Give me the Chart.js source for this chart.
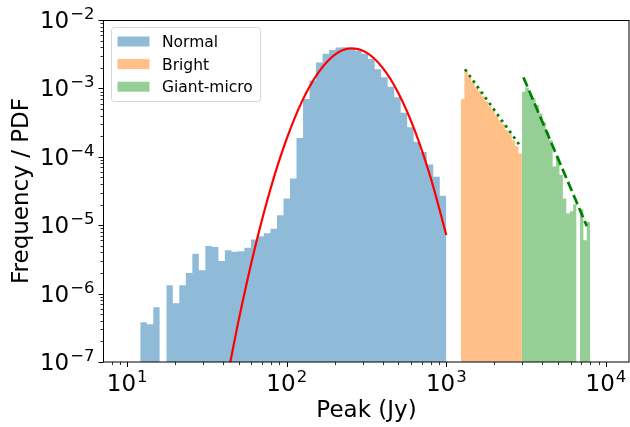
<!DOCTYPE html>
<html>
<head>
<meta charset="utf-8">
<script src="https://cdn.jsdelivr.net/npm/chart.js@4.4.0/dist/chart.umd.min.js"></script>
<style>
  html, body { margin: 0; padding: 0; background: #ffffff; }
  #wrap { width: 630px; height: 427px; }
</style>
</head>
<body>
<div id="wrap"><canvas id="peak-chart"></canvas></div>
<script>
// Histogram bin edges (Jy) and heights (PDF)
const normalEdges = [12.08, 13.27, 14.58, 16.01, 17.59, 19.32, 21.22, 23.32, 25.61, 28.13,
    30.90, 33.95, 37.29, 40.96, 45.00, 49.43, 54.30, 59.65, 65.52, 71.98,
    79.07, 86.86, 95.41, 104.8, 115.1, 126.5, 138.9, 152.6, 167.7, 184.2,
    202.3, 222.2, 244.1, 268.2, 294.6, 323.6, 355.5, 390.5, 428.9, 471.2,
    517.6, 568.6, 624.6, 686.1, 753.9, 827.9, 909.5, 1000];
const normalValues = [3.8e-7, 3.55e-7, 6.3e-7, 0, 1.32e-6, 7.2e-7, 1.32e-6, 2.0e-6, 3.84e-6, 2.2e-6,
    4.95e-6, 4.8e-6, 3.0e-6, 4.3e-6, 4.1e-6, 4.15e-6, 4.7e-6, 6.2e-6, 6.9e-6, 7.6e-6,
    8.9e-6, 1.4e-5, 2.46e-5, 4.8e-5, 1.89e-4, 6.97e-4, 1.3e-3, 2.4e-3, 3.2e-3, 3.64e-3,
    3.95e-3, 4.0e-3, 3.85e-3, 3.55e-3, 3.2e-3, 2.7e-3, 1.9e-3, 1.45e-3, 1.06e-3, 7.4e-4,
    4.4e-4, 2.7e-4, 1.65e-4, 1.18e-4, 7.7e-5, 5.1e-5, 2.7e-5];

const brightEdges = [1237, 1299, 1363, 1432, 1503, 1578, 1657, 1740, 1827, 1918,
    2014, 2114, 2220, 2331, 2447, 2569, 2698, 2832, 2974];
const brightValues = [6.97e-4, 1.85e-3, 1.46e-3, 1.24e-3, 1.04e-3, 9.1e-4, 7.7e-4, 6.5e-4, 5.5e-4,
    4.8e-4, 4.06e-4, 3.43e-4, 3.0e-4, 2.45e-4, 2.14e-4, 1.75e-4, 1.43e-4, 1.12e-4];

const giantEdges = [2974, 3124, 3282, 3447, 3622, 3805, 3998, 4201, 4413, 4635,
    4869, 5115, 5373, 5645, 5931, 6230, 6545, 6876, 7223, 7588, 7971];
const giantValues = [8.9e-4, 1.03e-3, 8.45e-4, 7.1e-4, 5.7e-4, 4.3e-4, 3.24e-4, 2.3e-4, 1.75e-4, 7.2e-5,
    1.0e-4, 5.4e-5, 2.46e-5, 1.48e-5, 1.6e-5, 2.02e-5, 0, 1.71e-5, 6.0e-6, 1.11e-5];

// Log-normal fit to the normal pulses (red curve)
const fitX = [43.65, 50.1, 63.1, 79.4, 100, 125.9, 158.5, 199.5, 251.2, 316.2, 398.1, 501.2, 631, 794.3, 1000];
const fitY = [8.4e-8, 4.2e-7, 4.6e-6, 3.5e-5, 1.84e-4, 6.8e-4, 1.73e-3, 3.1e-3, 3.85e-3, 3.34e-3,
    2.01e-3, 8.5e-4, 2.5e-4, 5.1e-5, 7.2e-6];

// Power-law fits (dotted: bright, dashed: giant-micro)
const brightFitX = [1309, 2851];
const brightFitY = [1.9e-3, 1.53e-4];
const giantFitX = [3041, 7590];
const giantFitY = [1.45e-3, 9.7e-6];

// Axis ranges and tick labels
const xRange = [7.16, 13950];
const yRange = [1e-7, 1e-2];
const xMajorTicks = [10, 100, 1000, 10000];
const xTickExponents = ['1', '2', '3', '4'];
const yMajorTicks = [1e-7, 1e-6, 1e-5, 1e-4, 1e-3, 1e-2];
const yTickExponents = ['\u22127', '\u22126', '\u22125', '\u22124', '\u22123', '\u22122'];

const FONT = "'DejaVu Sans', 'Liberation Sans', sans-serif";

// turn edges + heights into a step outline, breaking at empty bins
function histPoints(edges, values) {
    const pts = [];
    values.forEach((v, i) => {
        if (v > 0) {
            pts.push({ x: edges[i], y: v });
            if (i === values.length - 1 || !(values[i + 1] > 0)) {
                pts.push({ x: edges[i + 1], y: v });
            }
        } else {
            pts.push({ x: edges[i], y: null });
        }
    });
    return pts;
}

function zipXY(xs, ys) {
    return xs.map((x, i) => ({ x: x, y: ys[i] }));
}

function minorTicks(lo, hi, fromExp, toExp) {
    const out = [];
    for (let e = fromExp; e <= toExp; e++) {
        for (let m = 2; m <= 9; m++) {
            const v = m * Math.pow(10, e);
            if (v > lo && v < hi) out.push(v);
        }
    }
    return out;
}

// draws "10" with a raised exponent, mathtext-like
function drawPower(ctx, exp, x, baseline, align) {
    ctx.font = '23px ' + FONT;
    const w1 = ctx.measureText('10').width;
    ctx.font = '16.5px ' + FONT;
    const w2 = ctx.measureText(exp).width;
    const total = w1 + 1 + w2;
    let start = x - total / 2;
    if (align === 'right') start = x - total;
    ctx.textAlign = 'left';
    ctx.textBaseline = 'alphabetic';
    ctx.font = '23px ' + FONT;
    ctx.fillText('10', start, baseline);
    ctx.font = '16.5px ' + FONT;
    ctx.fillText(exp, start + w1 + 1, baseline - 9);
}

const axesDecor = {
    id: 'axesDecor',
    afterDraw(chart) {
        const ctx = chart.ctx;
        const area = chart.chartArea;
        const xs = chart.scales.x;
        const ys = chart.scales.y;
        ctx.save();
        ctx.strokeStyle = '#000000';
        ctx.fillStyle = '#000000';

        // spines
        ctx.lineWidth = 1;
        ctx.strokeRect(Math.round(area.left) - 0.5, Math.round(area.top) + 0.5,
            Math.round(area.right - area.left) + 0.5, Math.round(area.bottom - area.top) - 0.5);

        const bottom = Math.round(area.bottom);
        const left = Math.round(area.left) - 0.5;

        // x ticks
        ctx.beginPath();
        xMajorTicks.forEach(v => {
            const px = Math.round(xs.getPixelForValue(v)) + 0.5;
            ctx.moveTo(px, bottom); ctx.lineTo(px, bottom + 5);
        });
        ctx.stroke();
        ctx.lineWidth = 0.8;
        ctx.beginPath();
        minorTicks(xRange[0], xRange[1], 0, 4).forEach(v => {
            const px = Math.round(xs.getPixelForValue(v)) + 0.5;
            ctx.moveTo(px, bottom); ctx.lineTo(px, bottom + 3);
        });
        ctx.stroke();

        // y ticks
        ctx.lineWidth = 1;
        ctx.beginPath();
        yMajorTicks.forEach(v => {
            const py = Math.round(ys.getPixelForValue(v)) + 0.5;
            ctx.moveTo(left, py); ctx.lineTo(left - 5, py);
        });
        ctx.stroke();
        ctx.lineWidth = 0.8;
        ctx.beginPath();
        minorTicks(yRange[0], yRange[1], -7, -3).forEach(v => {
            const py = Math.round(ys.getPixelForValue(v)) + 0.5;
            ctx.moveTo(left, py); ctx.lineTo(left - 3, py);
        });
        ctx.stroke();

        // tick labels
        xMajorTicks.forEach((v, i) => {
            drawPower(ctx, xTickExponents[i], xs.getPixelForValue(v), bottom + 29, 'center');
        });
        yMajorTicks.forEach((v, i) => {
            drawPower(ctx, yTickExponents[i], left - 9, ys.getPixelForValue(v) + 8, 'right');
        });

        // axis titles
        ctx.font = '23px ' + FONT;
        ctx.textAlign = 'center';
        ctx.textBaseline = 'alphabetic';
        ctx.fillText('Peak (Jy)', (area.left + area.right) / 2, 417);
        ctx.save();
        ctx.translate(28, (area.top + area.bottom) / 2);
        ctx.rotate(-Math.PI / 2);
        ctx.fillText('Frequency / PDF', 0, 0);
        ctx.restore();

        // legend box (upper left, inside the axes)
        const items = chart.data.datasets.filter(d => d.inLegend);
        const bx = 111.5, by = 27.5, bw = 149, bh = 74;
        ctx.beginPath();
        ctx.roundRect(bx, by, bw, bh, 3);
        ctx.fillStyle = 'rgba(255,255,255,0.8)';
        ctx.fill();
        ctx.strokeStyle = '#d6d6d6';
        ctx.lineWidth = 1;
        ctx.stroke();
        items.forEach((d, i) => {
            const rowY = 36.5 + i * 22.6;
            ctx.fillStyle = d.backgroundColor;
            ctx.fillRect(117.5, rowY, 32, 10);
            ctx.fillStyle = '#000000';
            ctx.font = '15.5px ' + FONT;
            ctx.textAlign = 'left';
            ctx.fillText(d.label, 162, rowY + 10.4);
        });
        ctx.restore();
    }
};

const histStyle = {
    type: 'line',
    stepped: true,
    fill: 'start',
    borderWidth: 0,
    borderColor: 'transparent',
    pointRadius: 0,
    spanGaps: false,
    inLegend: true,
    order: 2
};

new Chart(document.getElementById('peak-chart'), {
    type: 'line',
    data: {
        datasets: [
            Object.assign({}, histStyle, {
                label: 'Normal',
                data: histPoints(normalEdges, normalValues),
                backgroundColor: 'rgba(31, 119, 180, 0.5)'
            }),
            Object.assign({}, histStyle, {
                label: 'Bright',
                data: histPoints(brightEdges, brightValues),
                backgroundColor: 'rgba(255, 127, 14, 0.5)'
            }),
            Object.assign({}, histStyle, {
                label: 'Giant-micro',
                data: histPoints(giantEdges, giantValues),
                backgroundColor: 'rgba(44, 160, 44, 0.5)'
            }),
            {
                label: 'Log-normal fit',
                data: zipXY(fitX, fitY),
                borderColor: '#ff0000',
                borderWidth: 2.2,
                pointRadius: 0,
                fill: false,
                cubicInterpolationMode: 'monotone',
                order: 1,
                clip: 0
            },
            {
                label: 'Bright power law',
                data: zipXY(brightFitX, brightFitY),
                borderColor: '#008000',
                borderWidth: 2.7,
                borderDash: [2.7, 4.2],
                pointRadius: 0,
                fill: false,
                order: 1
            },
            {
                label: 'Giant-micro power law',
                data: zipXY(giantFitX, giantFitY),
                borderColor: '#008000',
                borderWidth: 2.7,
                borderDash: [10, 4.2],
                pointRadius: 0,
                fill: false,
                order: 1
            }
        ]
    },
    options: {
        responsive: true,
        maintainAspectRatio: false,
        animation: false,
        events: [],
        layout: { padding: { left: 104, right: 1, top: 20, bottom: 65 } },
        scales: {
            x: { type: 'logarithmic', min: xRange[0], max: xRange[1], display: false },
            y: { type: 'logarithmic', min: yRange[0], max: yRange[1], display: false }
        },
        plugins: {
            legend: { display: false },
            tooltip: { enabled: false }
        }
    },
    plugins: [axesDecor]
});
</script>
</body>
</html>
